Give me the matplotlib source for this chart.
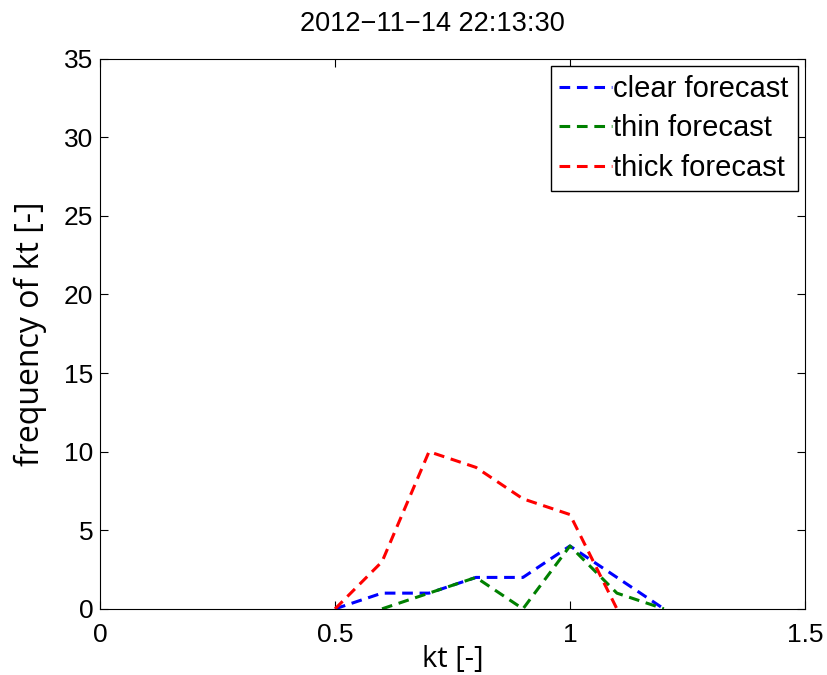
import matplotlib
matplotlib.use('Agg')
from matplotlib import pyplot as plt

# kt bins and counts
kt = [0.5, 0.6, 0.7, 0.8, 0.9, 1.0, 1.1, 1.2]
clear = [0, 1, 1, 2, 2, 4, 2, 0]
thin = [0, 0, 1, 2, 0, 4, 1, 0]
thick = [0, 3, 10, 9, 7, 6, 0, None]

plt.rcParams['font.family'] = ['Liberation Sans', 'DejaVu Sans']
fig = plt.figure(figsize=(8.28, 6.75), dpi=100)
ax = fig.add_axes([0.121, 0.098, 0.851, 0.815])

dash = (3.5, 2.2)
ax.plot(kt, clear, '--', color='blue', lw=2.2, dashes=dash, label='clear forecast')
ax.plot(kt[1:], thin[1:], '--', color='green', lw=2.2, dashes=dash, label='thin forecast')
ax.plot(kt[:7], thick[:7], '--', color='red', lw=2.2, dashes=dash, label='thick forecast')

ax.set_xlim(0, 1.5)
ax.set_ylim(0, 35)
ax.set_xticks([0, 0.5, 1, 1.5])
ax.set_xticklabels(['0', '0.5', '1', '1.5'])
ax.set_yticks(range(0, 36, 5))
ax.tick_params(direction='in', top=True, right=True, labelsize=19, length=6)
ax.tick_params(axis='x', pad=10)
ax.tick_params(axis='y', pad=5)
ax.set_xlabel('kt [-]', fontsize=21, family='Open Sans', labelpad=-1)
ax.set_ylabel('frequency of kt [-]', fontsize=23, family='Open Sans', labelpad=12)
ax.set_title('2012\u221211\u221214 22:13:30', fontsize=19.5, pad=20, x=0.471)

leg = ax.legend(loc='upper right', fontsize=21, fancybox=False, framealpha=1,
                edgecolor='black', handlelength=1.8, handletextpad=0.05,
                borderaxespad=0.25, labelspacing=0.4, borderpad=0.3)
leg.get_frame().set_linewidth(1)

fig.savefig('out.png', dpi=100)
